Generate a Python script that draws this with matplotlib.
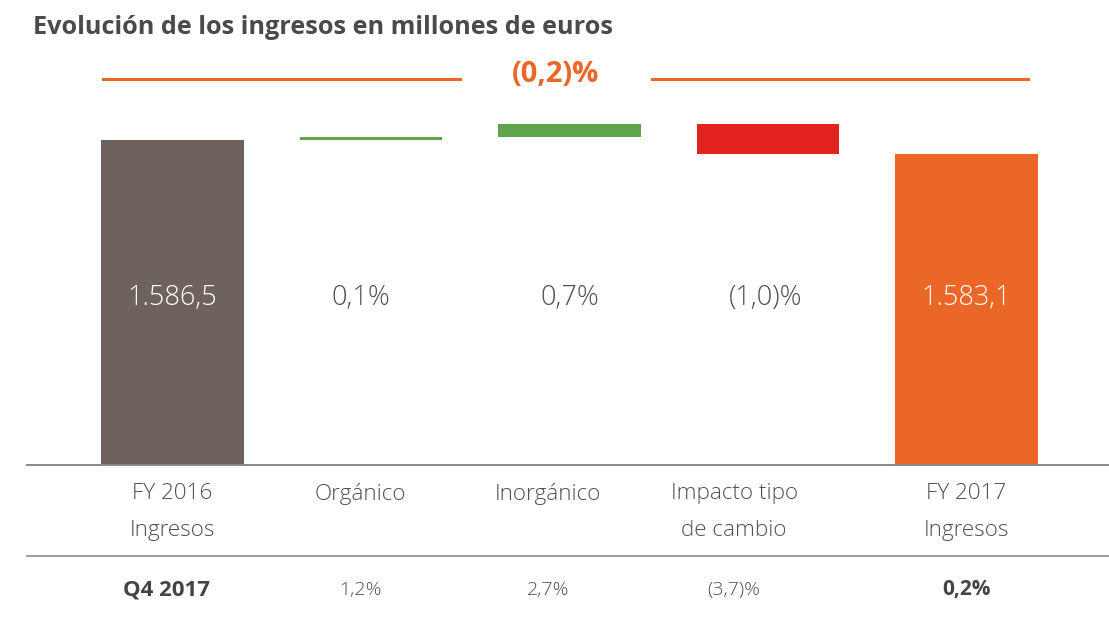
import matplotlib
matplotlib.use('Agg')
import matplotlib.pyplot as plt

# data (millions of euros)
categories = ['FY 2016\nIngresos', 'Orgánico', 'Inorgánico', 'Impacto tipo\nde cambio', 'FY 2017\nIngresos']
start_value = 1586.5
end_value = 1583.1
deltas = [0.7, 3.2, -7.3]
bar_labels = ['1.586,5', '0,1%', '0,7%', '(1,0)%', '1.583,1']
q4_labels = ['Q4 2017', '1,2%', '2,7%', '(3,7)%', '0,2%']
total_change = '(0,2)%'

# colours
BROWN = '#6e625d'
ORANGE = '#ea6728'
GREEN = '#61a44c'
RED = '#e2231f'
TEXT = '#505050'
RULE = '#8f8787'

W, H = 1109, 617
plt.rcParams['font.family'] = ['Open Sans', 'DejaVu Sans']

fig = plt.figure(figsize=(W / 100, H / 100), dpi=100)
ax = fig.add_axes([0, 0, 1, 1])
ax.set_xlim(-0.869, 4.718)
ax.set_ylim(1470.7, 1620.5)
ax.axis('off')

axis_floor = 1507.6  # bars are drawn on a truncated axis
width = 0.72

# totals
ax.bar(0, start_value - axis_floor, bottom=axis_floor, width=width, color=BROWN)
ax.bar(4, end_value - axis_floor, bottom=axis_floor, width=width, color=ORANGE)

# floating steps
level = start_value
for i, d in enumerate(deltas):
    col = GREEN if d > 0 else RED
    ax.bar(i + 1, d, bottom=level, width=width, color=col)
    level += d


def fy(px):
    return 1 - px / H


def fx(px):
    return px / W


tr = ax.get_xaxis_transform()

# value labels inside the chart
value_x = [0, 0.947, 2.0, 2.99, 4]
for i, (x, lab) in enumerate(zip(value_x, bar_labels)):
    c = 'white' if i in (0, 4) else TEXT
    ax.text(x, fy(298), lab, transform=tr, ha='center', va='center',
            fontsize=19.5, color=c, fontweight='light')

# rules
ax.plot([fx(27), 1], [fy(465), fy(465)], transform=ax.transAxes, color=RULE, lw=1.4)
ax.plot([fx(27), 1], [fy(556), fy(556)], transform=ax.transAxes, color='#a09a9a', lw=1.4)

# category labels and Q4 row
row_x = [0, 0.947, 1.892, 2.83, 4.0]
for i, (x, cat, q4) in enumerate(zip(row_x, categories, q4_labels)):
    ax.text(x, fy(483), cat, transform=tr, ha='center', va='top',
            fontsize=16.2, color=TEXT, fontweight='light', linespacing=2.0)
    bold = i in (0, 4)
    size = 14 if not bold else (16 if i == 0 else 15)
    ax.text(x - (0.03 if i == 0 else 0), fy(590), q4, transform=tr, ha='center', va='center',
            fontsize=size, color='#444444' if bold else TEXT,
            fontweight='bold' if bold else 'light')

# header
fig.text(fx(33), fy(28), 'Evolución de los ingresos en millones de euros',
         ha='left', va='center', fontsize=18.2, fontweight='bold', color='#4a4a4a')
ax.plot([fx(103), fx(460)], [fy(79), fy(79)], transform=ax.transAxes, color=ORANGE, lw=2.2)
ax.plot([fx(652), fx(1028)], [fy(79), fy(79)], transform=ax.transAxes, color=ORANGE, lw=2.2)
fig.text(fx(556), fy(75), total_change, ha='center', va='center',
         fontsize=21, fontweight='bold', color=ORANGE)

fig.savefig('out.png', dpi=100)
